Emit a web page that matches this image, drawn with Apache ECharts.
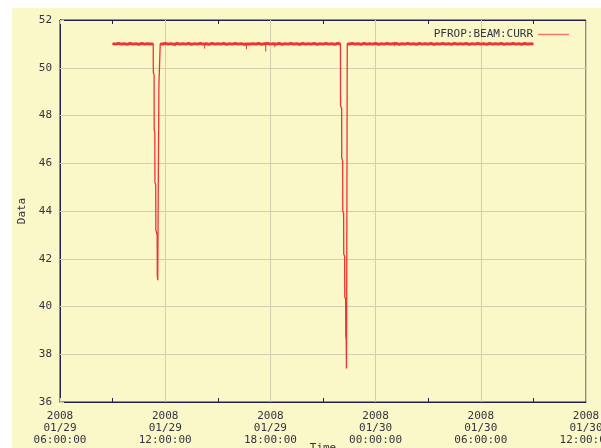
<!DOCTYPE html>
<html>
<head>
<meta charset="utf-8">
<script src="https://cdn.jsdelivr.net/npm/echarts@6/dist/echarts.min.js"></script>
<style>
html,body{margin:0;padding:0;background:#ffffff;}
#wrap{position:relative;width:601px;height:448px;background:#ffffff;overflow:hidden;}
#paper{position:absolute;left:12px;top:8px;width:589px;height:440px;background:#faf7c8;}
#chart{position:absolute;left:0;top:0;width:601px;height:448px;}
</style>
</head>
<body>
<div id="wrap"><div id="paper"></div><div id="chart"></div></div>
<script>
// ---- data (time "DD HH:MM[:SS]" on 2008-01, value) ----
const seriesName = 'PFROP:BEAM:CURR';
const yTicks = [36, 38, 40, 42, 44, 46, 48, 50, 52];
const xTickHours = [0, 6, 12, 18, 24, 30]; // hours since 2008-01-29 06:00

const flatA = [
  ['29 09:00', 51.01], ['29 09:10', 50.99], ['29 09:20', 51.02], ['29 09:30', 50.99],
  ['29 09:40', 51.01], ['29 09:50', 50.98], ['29 10:00', 51.02], ['29 10:10', 50.99],
  ['29 10:20', 51.01], ['29 10:30', 50.98], ['29 10:40', 51.02], ['29 10:50', 50.99],
  ['29 11:00', 51.01], ['29 11:10', 50.99], ['29 11:19', 51.0]
];
const dip1 = [
  ['29 11:19:00', 51.0], ['29 11:19:20', 49.8], ['29 11:22:00', 49.7], ['29 11:22:20', 47.4],
  ['29 11:24:30', 47.3], ['29 11:24:50', 45.2], ['29 11:27:30', 45.1], ['29 11:28:00', 43.2],
  ['29 11:32:30', 43.0], ['29 11:33:00', 41.3], ['29 11:34:30', 41.1], ['29 11:36:00', 44.5],
  ['29 11:38:30', 49.3], ['29 11:42:30', 49.3], ['29 11:43:00', 51.0]
];
const flatB = [
  ['29 11:43', 51.0],
  ['29 11:50', 50.99], ['29 12:00', 51.02], ['29 12:10', 50.99], ['29 12:20', 51.01],
  ['29 12:30', 50.98], ['29 12:40', 51.02], ['29 12:50', 50.99], ['29 13:00', 51.01],
  ['29 13:10', 50.99], ['29 13:20', 51.02], ['29 13:30', 50.98], ['29 13:40', 51.01],
  ['29 13:50', 50.99], ['29 14:00', 51.02], ['29 14:10', 50.99], ['29 14:15', 50.99],
  ['29 14:20', 51.01], ['29 14:30', 50.98], ['29 14:40', 51.02], ['29 14:50', 50.99],
  ['29 15:00', 51.01], ['29 15:10', 50.99], ['29 15:20', 51.02], ['29 15:30', 50.98],
  ['29 15:40', 51.01], ['29 15:50', 50.99], ['29 16:00', 51.02], ['29 16:10', 50.99],
  ['29 16:20', 51.01], ['29 16:30', 50.98], ['29 16:38', 50.99], ['29 16:40', 51.02],
  ['29 16:50', 50.99], ['29 17:00', 51.01], ['29 17:10', 50.99], ['29 17:20', 51.02],
  ['29 17:30', 50.98], ['29 17:40', 51.01], ['29 17:44', 50.99], ['29 17:50', 51.02],
  ['29 18:00', 50.99], ['29 18:10', 51.01], ['29 18:15', 50.99], ['29 18:20', 50.99],
  ['29 18:30', 51.02], ['29 18:40', 50.98], ['29 18:50', 51.01], ['29 19:00', 50.99],
  ['29 19:10', 51.02], ['29 19:20', 50.99], ['29 19:30', 51.01], ['29 19:40', 50.98],
  ['29 19:50', 51.02], ['29 20:00', 50.99], ['29 20:10', 51.01], ['29 20:20', 50.99],
  ['29 20:30', 51.02], ['29 20:40', 50.98], ['29 20:50', 51.01], ['29 21:00', 50.99],
  ['29 21:10', 51.02], ['29 21:20', 50.99], ['29 21:30', 51.01], ['29 21:40', 50.98],
  ['29 21:50', 51.02], ['29 21:59:40', 51.0]
];
// short downward glitches on the flat trace: [time, low value]
const spikes = [
  ['29 14:15', 50.80], ['29 16:38', 50.78], ['29 17:44', 50.68], ['29 18:15', 50.86],
  ['29 12:35', 50.92], ['29 19:40', 50.92], ['30 01:05', 50.90], ['30 03:20', 50.93]
];
const dip2 = [
  ['29 21:59:40', 51.0], ['29 22:00:00', 48.4], ['29 22:03:50', 48.3], ['29 22:04:10', 46.2],
  ['29 22:07:20', 46.1], ['29 22:07:40', 44.0], ['29 22:10:40', 43.9], ['29 22:11:00', 42.2],
  ['29 22:14:00', 42.1], ['29 22:14:30', 40.4], ['29 22:17:30', 40.3], ['29 22:18:00', 38.8],
  ['29 22:19:30', 38.6], ['29 22:20:10', 37.4], ['29 22:21:00', 39.7], ['29 22:23:00', 51.0]
];
const flatC = [
  ['29 22:23', 51.0],
  ['29 22:30', 50.99], ['29 22:40', 51.02], ['29 22:50', 50.99], ['29 23:00', 51.01],
  ['29 23:10', 50.98], ['29 23:20', 51.02], ['29 23:30', 50.99], ['29 23:40', 51.01],
  ['29 23:50', 50.99], ['30 00:00', 51.02], ['30 00:10', 50.98], ['30 00:20', 51.01],
  ['30 00:30', 50.99], ['30 00:40', 51.02], ['30 00:50', 50.99], ['30 01:00', 51.01],
  ['30 01:05', 50.99], ['30 01:10', 51.02], ['30 01:20', 50.98], ['30 01:30', 51.01],
  ['30 01:40', 50.99], ['30 01:50', 51.02], ['30 02:00', 50.99], ['30 02:10', 51.01],
  ['30 02:20', 50.98], ['30 02:30', 51.02], ['30 02:40', 50.99], ['30 02:50', 51.01],
  ['30 03:00', 50.99], ['30 03:10', 51.02], ['30 03:20', 50.98], ['30 03:30', 51.01],
  ['30 03:40', 50.99], ['30 03:50', 51.02], ['30 04:00', 50.99], ['30 04:10', 51.01],
  ['30 04:20', 50.98], ['30 04:30', 51.02], ['30 04:40', 50.99], ['30 04:50', 51.01],
  ['30 05:00', 50.99], ['30 05:10', 51.02], ['30 05:20', 50.98], ['30 05:30', 51.01],
  ['30 05:40', 50.99], ['30 05:50', 51.02], ['30 06:00', 50.99], ['30 06:10', 51.01],
  ['30 06:20', 50.98], ['30 06:30', 51.02], ['30 06:40', 50.99], ['30 06:50', 51.01],
  ['30 07:00', 50.99], ['30 07:10', 51.02], ['30 07:20', 50.98], ['30 07:30', 51.01],
  ['30 07:40', 50.99], ['30 07:50', 51.02], ['30 08:00', 50.99], ['30 08:10', 51.01],
  ['30 08:20', 50.98], ['30 08:30', 51.02], ['30 08:40', 50.99], ['30 08:50', 51.01],
  ['30 09:00', 50.99]
];

// hours since 2008-01-29 06:00
function toHours(s) {
  const parts = s.split(' ');
  const day = parseInt(parts[0], 10);
  const t = parts[1].split(':').map(Number);
  const sec = t[2] || 0;
  return (day - 29) * 24 + t[0] + t[1] / 60 + sec / 3600 - 6;
}
const conv = arr => arr.map(p => [toHours(p[0]), p[1]]);
// full trace (thin) and the steady-beam portions (drawn as thicker noisy band)
const fullTrace = conv([].concat(flatA, dip1.slice(1), flatB.slice(1), dip2.slice(1), flatC.slice(1)));
const steadyTrace = [].concat(conv(flatA), [[null, null]], conv(flatB), [[null, null]], conv(flatC));
const spikeTrace = [];
spikes.forEach(p => {
  const h = toHours(p[0]);
  spikeTrace.push([h, 51.0], [h, p[1]], [null, null]);
});

function pad(n) { return (n < 10 ? '0' : '') + n; }
function xLabel(h) {
  const total = 6 + Math.round(h);
  const day = 29 + Math.floor(total / 24);
  const hour = total % 24;
  return '2008\n01/' + pad(day) + '\n' + pad(hour) + ':00:00';
}

const FONT = 'DejaVu Sans Mono';
const INK = '#333340';
const AXIS = '#22224a';
const GRID = '#d3cfae';
const RED = '#f03232';

const chart = echarts.init(document.getElementById('chart'), null, { renderer: 'canvas' });
chart.setOption({
  backgroundColor: 'transparent',
  animation: false,
  textStyle: { fontFamily: FONT },
  grid: {
    left: 60, right: 15, top: 20, bottom: 46,
    containLabel: false, outerBoundsMode: 'none',
    show: true, borderColor: AXIS, borderWidth: 1, backgroundColor: 'transparent'
  },
  legend: {
    show: true,
    data: [{ name: seriesName, icon: 'rect' }],
    right: 27,
    top: 24,
    align: 'right',
    itemWidth: 31,
    itemHeight: 1.5,
    itemStyle: { color: '#f27a6a' },
    textStyle: { fontFamily: FONT, fontSize: 11, color: INK }
  },
  xAxis: [{
    type: 'value',
    min: xTickHours[0],
    max: xTickHours[xTickHours.length - 1],
    interval: 6,
    position: 'bottom',
    name: 'Time',
    nameLocation: 'middle',
    nameGap: 41,
    nameMoveOverlap: false,
    nameTextStyle: { fontFamily: FONT, fontSize: 11, color: INK, verticalAlign: 'top' },
    axisLine: { show: true, lineStyle: { color: AXIS, width: 1 } },
    axisTick: { show: true, inside: true, length: 4, lineStyle: { color: GRID } },
    minorTick: { show: true, splitNumber: 2, length: 4, lineStyle: { color: AXIS } },
    splitLine: { show: true, lineStyle: { color: GRID, width: 1 } },
    axisLabel: {
      show: true, margin: 8, fontFamily: FONT, fontSize: 11, lineHeight: 12, color: INK,
      showMinLabel: true, showMaxLabel: true, hideOverlap: false,
      formatter: v => xLabel(v)
    }
  }, {
    type: 'value',
    min: xTickHours[0],
    max: xTickHours[xTickHours.length - 1],
    interval: 6,
    position: 'top',
    axisLine: { show: true, lineStyle: { color: AXIS, width: 1 } },
    axisTick: { show: true, inside: true, length: 4, lineStyle: { color: GRID } },
    minorTick: { show: true, splitNumber: 2, length: 4, lineStyle: { color: AXIS } },
    splitLine: { show: false },
    axisLabel: { show: false }
  }],
  yAxis: [{
    type: 'value',
    min: yTicks[0],
    max: yTicks[yTicks.length - 1],
    interval: 2,
    name: 'Data',
    nameLocation: 'middle',
    nameGap: 38,
    nameMoveOverlap: false,
    nameTextStyle: { fontFamily: FONT, fontSize: 11, color: INK, verticalAlign: 'middle' },
    axisLine: { show: true, lineStyle: { color: AXIS, width: 1 } },
    axisTick: { show: true, inside: true, length: 4, lineStyle: { color: GRID } },
    splitLine: { show: true, lineStyle: { color: GRID, width: 1 } },
    axisLabel: { show: true, margin: 8, fontFamily: FONT, fontSize: 11, color: INK, showMinLabel: true, showMaxLabel: true }
  }, {
    type: 'value',
    min: yTicks[0],
    max: yTicks[yTicks.length - 1],
    interval: 2,
    position: 'right',
    axisLine: { show: true, lineStyle: { color: AXIS, width: 1 } },
    axisTick: { show: false },
    splitLine: { show: false },
    axisLabel: { show: false }
  }],
  series: [{
    name: seriesName,
    type: 'line',
    data: fullTrace,
    symbol: 'none',
    showSymbol: false,
    lineStyle: { color: RED, width: 1.3 },
    itemStyle: { color: RED },
    z: 3
  }, {
    name: seriesName,
    type: 'line',
    data: steadyTrace,
    connectNulls: false,
    symbol: 'none',
    showSymbol: false,
    lineStyle: { color: RED, width: 3 },
    itemStyle: { color: RED },
    z: 3
  }, {
    name: seriesName,
    type: 'line',
    data: spikeTrace,
    connectNulls: false,
    symbol: 'none',
    showSymbol: false,
    lineStyle: { color: RED, width: 1 },
    itemStyle: { color: RED },
    z: 3
  }]
});
</script>
</body>
</html>
